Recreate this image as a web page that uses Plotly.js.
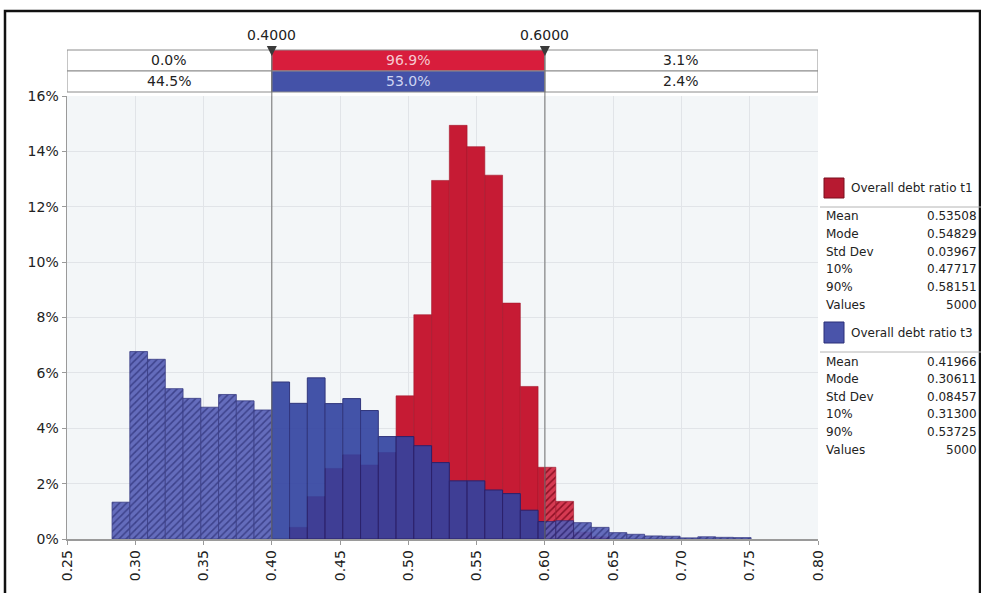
<!DOCTYPE html>
<html>
<head>
<meta charset="utf-8">
<script src="https://cdn.plot.ly/plotly-3.0.1.min.js"></script>
<style>html,body{margin:0;padding:0;background:#fff;}#chart{width:981px;height:593px;}</style>
</head>
<body>
<div id="chart"></div>
<script>
// ---------- DATA ----------
const binStart = 0.283;
const binWidth = 0.013;
// % of values per bin, series "Overall debt ratio t1" (red)
const t1Values = [0,0,0,0,0,0,0,0,0,0,
  0.42,1.53,2.55,3.04,2.67,3.12,
  5.17,8.10,12.95,14.94,14.17,13.14,8.52,5.51,2.59,1.36,
  0.25,0.08,0,0,0,0,0,0,0,0];
// % of values per bin, series "Overall debt ratio t3" (blue)
const t3Values = [1.33,6.77,6.49,5.43,5.08,4.76,5.22,4.99,4.66,
  5.67,4.90,5.82,4.89,5.07,4.64,3.70,3.70,3.37,2.76,2.10,2.10,1.77,1.64,1.04,
  0.63,0.66,0.59,0.42,0.23,0.17,0.11,0.10,0.04,0.08,0.06,0.05];
const delimiters = [0.40, 0.60];
const xRange = [0.25, 0.80];
const yRange = [0, 16];
const t1Band = ["0.0%", "96.9%", "3.1%"];
const t3Band = ["44.5%", "53.0%", "2.4%"];
const seriesNames = ["Overall debt ratio t1", "Overall debt ratio t3"];
const statLabels = ["Mean", "Mode", "Std Dev", "10%", "90%", "Values"];
const t1Stats = ["0.53508", "0.54829", "0.03967", "0.47717", "0.58151", "5000"];
const t3Stats = ["0.41966", "0.30611", "0.08457", "0.31300", "0.53725", "5000"];

// ---------- GEOMETRY HELPERS ----------
const PL = 67, PR = 818, PT = 96, PB = 539;
const px = p => (p - PL) / (PR - PL);
const py = p => (PB - p) / (PB - PT);

function segments(values, inside) {
  const xs = [], ws = [], ys = [];
  values.forEach((v, i) => {
    const a = binStart + i * binWidth, b = a + binWidth;
    let parts;
    if (inside) parts = [[Math.max(a, delimiters[0]), Math.min(b, delimiters[1])]];
    else parts = [[a, Math.min(b, delimiters[0])], [Math.max(a, delimiters[1]), b]];
    parts.forEach(([lo, hi]) => {
      if (hi - lo > 1e-9 && v > 0) { xs.push((lo + hi) / 2); ws.push(hi - lo); ys.push(v); }
    });
  });
  return {x: xs, width: ws, y: ys};
}

const RED = '#c61b34', BLUE = '#3142a0';
const traces = [];
function addTrace(values, inside, style) {
  const s = segments(values, inside);
  traces.push(Object.assign({type: 'bar', x: s.x, y: s.y, width: s.width, hoverinfo: 'skip', showlegend: false}, style));
}
addTrace(t1Values, false, {marker: {color: '#d0354c', line: {color: '#9a1428', width: 0.6},
  pattern: {shape: '/', size: 5, solidity: 0.3, fgcolor: '#8e1024', bgcolor: '#d63a52', fillmode: 'replace'}}});
addTrace(t1Values, true, {marker: {color: RED, line: {color: '#a3172b', width: 0.6}}});
addTrace(t3Values, false, {opacity: 0.9, marker: {color: '#5058b0', line: {color: '#262a78', width: 0.8},
  pattern: {shape: '/', size: 5, solidity: 0.3, fgcolor: '#2a2f80', bgcolor: '#555eb6', fillmode: 'replace'}}});
addTrace(t3Values, true, {opacity: 0.9, marker: {color: BLUE, line: {color: '#1d2270', width: 1}}});

// ---------- SHAPES & ANNOTATIONS ----------
const shapes = [], annotations = [];
const F = "DejaVu Sans";
// outer frame
shapes.push({type: 'rect', xref: 'paper', yref: 'paper', x0: px(5), x1: px(980), y0: py(640), y1: py(11),
  line: {color: '#111', width: 2.5}, fillcolor: 'rgba(0,0,0,0)', layer: 'below'});

// top band
const bandX = [xRange[0], delimiters[0], delimiters[1], xRange[1]];
const rows = [{vals: t1Band, top: 50, bot: 71, fill: '#d81d3c', txt: '#f6c9d1'},
              {vals: t3Band, top: 71, bot: 92, fill: '#4452a8', txt: '#cfd4f2'}];
rows.forEach(r => {
  for (let k = 0; k < 3; k++) {
    const mid = k === 1;
    shapes.push({type: 'rect', xref: 'x', yref: 'paper', x0: bandX[k], x1: bandX[k + 1], y0: py(r.bot), y1: py(r.top),
      fillcolor: mid ? r.fill : '#ffffff', line: {color: '#8c8c8c', width: 1}});
    annotations.push({xref: 'x', yref: 'paper', x: (bandX[k] + bandX[k + 1]) / 2, y: py((r.top + r.bot) / 2),
      text: r.vals[k], showarrow: false, font: {family: F, size: 14, color: mid ? r.txt : '#222'}, yanchor: 'middle'});
  }
});
// delimiters
delimiters.forEach(d => {
  shapes.push({type: 'line', xref: 'x', yref: 'paper', x0: d, x1: d, y0: 0, y1: py(50),
    line: {color: '#707070', width: 1}, layer: 'above'});
  shapes.push({type: 'path', xref: 'x', yref: 'paper', xsizemode: 'pixel', ysizemode: 'pixel',
    xanchor: d, yanchor: py(56), path: 'M -5 10 L 5 10 L 0 0 Z', fillcolor: '#3a3a3a', line: {width: 0}, layer: 'above'});
  annotations.push({xref: 'x', yref: 'paper', x: d, y: py(35), text: d.toFixed(4), showarrow: false,
    font: {family: F, size: 14, color: '#222'}, yanchor: 'middle'});
});

// legend blocks
const blocks = [{name: seriesNames[0], stats: t1Stats, sw: [178, 198], title: 188, sep: 207, rows: [216.5, 234, 251.5, 269, 286.5, 304.5],
                 fill: '#b71a31', edge: '#7a0f1f'},
                {name: seriesNames[1], stats: t3Stats, sw: [322, 343], title: 333, sep: 352, rows: [361.5, 379, 396.5, 414, 431.5, 449.5],
                 fill: '#4a54aa', edge: '#2a2f78'}];
blocks.forEach(b => {
  shapes.push({type: 'rect', xref: 'paper', yref: 'paper', x0: px(824), x1: px(844), y0: py(b.sw[1]), y1: py(b.sw[0]),
    fillcolor: b.fill, line: {color: b.edge, width: 1}});
  shapes.push({type: 'line', xref: 'paper', yref: 'paper', x0: px(820), x1: px(981), y0: py(b.sep), y1: py(b.sep),
    line: {color: '#b4b4b4', width: 1}});
  annotations.push({xref: 'paper', yref: 'paper', x: px(849), y: py(b.title), xanchor: 'left', yanchor: 'middle',
    text: b.name, showarrow: false, font: {family: F, size: 12, color: '#222'}});
  statLabels.forEach((l, i) => {
    annotations.push({xref: 'paper', yref: 'paper', x: px(824), y: py(b.rows[i]), xanchor: 'left', yanchor: 'middle',
      text: l, showarrow: false, font: {family: F, size: 12, color: '#222'}});
    annotations.push({xref: 'paper', yref: 'paper', x: px(979), y: py(b.rows[i]), xanchor: 'right', yanchor: 'middle',
      text: b.stats[i], showarrow: false, font: {family: F, size: 12, color: '#222'}});
  });
});

const layout = {
  width: 981, height: 593,
  margin: {l: PL, r: 981 - PR, t: PT, b: 593 - PB, pad: 0},
  paper_bgcolor: '#ffffff', plot_bgcolor: '#f3f6f8',
  barmode: 'overlay', bargap: 0, showlegend: false,
  font: {family: F, size: 14, color: '#222'},
  xaxis: {range: xRange, tick0: 0.25, dtick: 0.05, tickformat: '.2f', tickangle: -90,
    showgrid: true, gridcolor: '#e1e4e8', zeroline: false, showline: true, linecolor: '#9a9a9a', linewidth: 1.5,
    ticks: 'outside', ticklen: 4, tickcolor: '#9a9a9a', tickfont: {family: F, size: 14, color: '#222'}},
  yaxis: {range: yRange, dtick: 2, ticksuffix: '%', showgrid: true, gridcolor: '#e1e4e8', zeroline: false,
    showline: true, linecolor: '#9a9a9a', linewidth: 1.5, ticks: 'outside', ticklen: 4, tickcolor: '#9a9a9a',
    tickfont: {family: F, size: 14, color: '#222'}},
  shapes: shapes, annotations: annotations
};
Plotly.newPlot('chart', traces, layout, {displayModeBar: false, staticPlot: true});
</script>
</body>
</html>
